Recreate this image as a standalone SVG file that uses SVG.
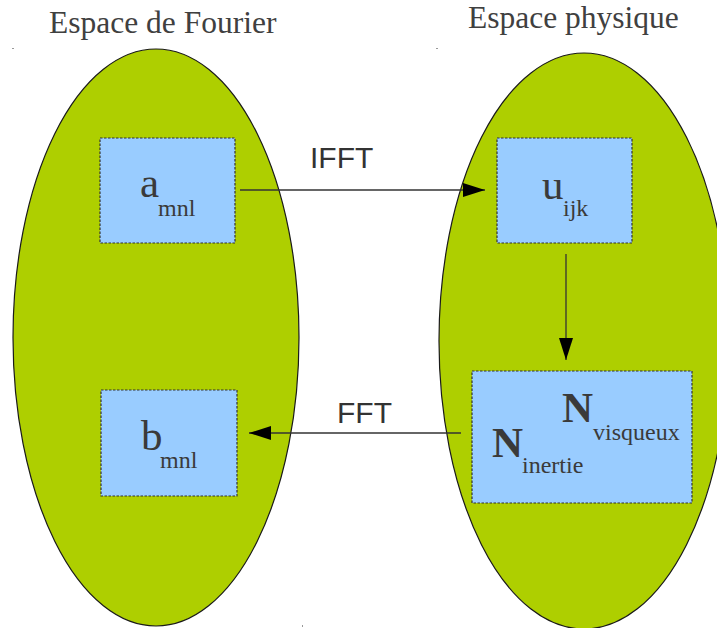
<svg xmlns="http://www.w3.org/2000/svg" width="717" height="628" viewBox="0 0 717 628">
<style>
.ell{fill:#aecf00;stroke:#1a1a1a;stroke-width:1.2}
.box{fill:#99ccff;stroke:#333;stroke-width:1.2;stroke-dasharray:2.5 1.5}
.serif{font-family:"Liberation Serif","Times New Roman",serif;fill:#3a3a3a}
.title{font-size:31.5px;fill:#404040}
.big{font-size:43px}
.sub{font-size:24px}
.bold{font-weight:bold;font-size:43px}
.lab{font-family:"Liberation Sans",Arial,sans-serif;font-size:30px;fill:#333}
.conn{stroke:#333;stroke-width:1.3;fill:none}
</style>
<defs>
<marker id="ah" viewBox="0 0 22 14" refX="22" refY="7" markerWidth="22" markerHeight="14" markerUnits="userSpaceOnUse" orient="auto">
<path d="M0,0 L22,7 L0,14 Z" fill="#000"/>
</marker>
</defs>
<rect width="717" height="628" fill="#fff"/>
<text class="serif title" x="49" y="33">Espace de Fourier</text>
<text class="serif title" x="468" y="28">Espace physique</text>
<g id="fourier-space"><ellipse class="ell" cx="156" cy="337.5" rx="143" ry="288.5"/></g>
<g id="physical-space"><ellipse class="ell" cx="584" cy="341" rx="145" ry="288"/></g>
<g id="connectors">
<line class="conn" x1="240" y1="190" x2="485" y2="190" marker-end="url(#ah)"/>
<line class="conn" x1="566" y1="254" x2="566" y2="360" marker-end="url(#ah)"/>
<line class="conn" x1="461" y1="433" x2="249" y2="433" marker-end="url(#ah)"/>
<text class="lab" x="310" y="168">IFFT</text>
<text class="lab" x="337" y="423">FFT</text>
</g>
<g id="a-mnl">
<rect class="box" x="100" y="138" width="135" height="105"/>
<text class="serif big" x="140" y="197">a</text>
<text class="serif sub" x="158" y="216">mnl</text>
</g>
<g id="u-ijk">
<rect class="box" x="497" y="138" width="135" height="105"/>
<text class="serif big" x="542" y="199">u</text>
<text class="serif sub" x="563" y="216">ijk</text>
</g>
<g id="b-mnl">
<rect class="box" x="101" y="390" width="136" height="106"/>
<text class="serif big" x="141" y="450">b</text>
<text class="serif sub" x="160" y="468">mnl</text>
</g>
<g id="N-terms">
<rect class="box" x="472" y="371" width="220" height="132"/>
<text class="serif bold" x="562" y="422">N</text>
<text class="serif sub" x="593" y="440">visqueux</text>
<text class="serif bold" x="492" y="457">N</text>
<text class="serif sub" x="522" y="473">inertie</text>
</g>
<rect x="12" y="48" width="2" height="1" fill="#999"/>
<rect x="436" y="48" width="2" height="1" fill="#999"/>
<rect x="302" y="625" width="1" height="2" fill="#999"/>
</svg>
